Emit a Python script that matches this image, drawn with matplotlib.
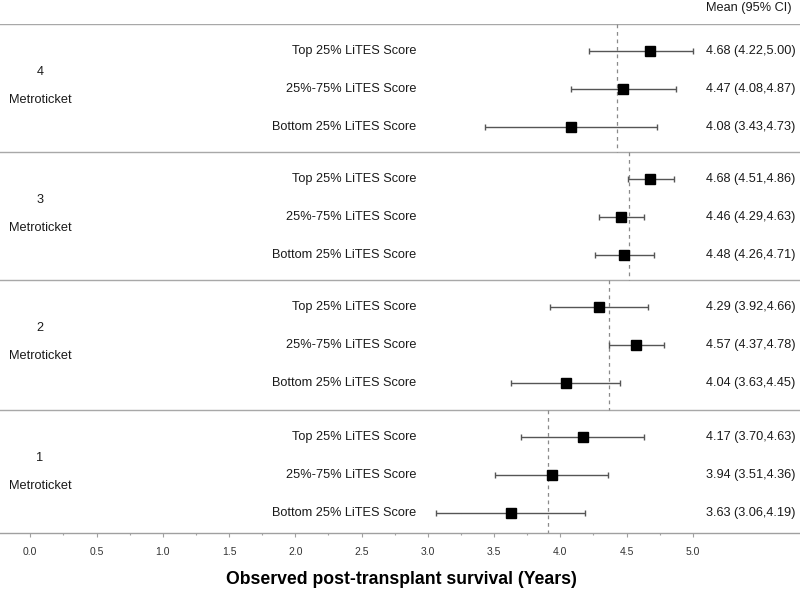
import matplotlib
matplotlib.use("Agg")
import matplotlib.pyplot as plt
from matplotlib import font_manager
from matplotlib.ticker import FixedLocator

# ---- data ----
groups = ["4", "3", "2", "1"]
row_labels = ["Top 25% LiTES Score", "25%-75% LiTES Score", "Bottom 25% LiTES Score"]
means = [[4.68, 4.47, 4.08],
         [4.68, 4.46, 4.48],
         [4.29, 4.57, 4.04],
         [4.17, 3.94, 3.63]]
lower = [[4.22, 4.08, 3.43],
         [4.51, 4.29, 4.26],
         [3.92, 4.37, 3.63],
         [3.70, 3.51, 3.06]]
upper = [[5.00, 4.87, 4.73],
         [4.86, 4.63, 4.71],
         [4.66, 4.78, 4.45],
         [4.63, 4.36, 4.19]]
ref_lines = [4.43, 4.52, 4.37, 3.91]
group_name = "Metroticket"
header = "Mean (95% CI)"
xlabel = "Observed post-transplant survival (Years)"
xticks = [0.0, 0.5, 1.0, 1.5, 2.0, 2.5, 3.0, 3.5, 4.0, 4.5, 5.0]
minor_ticks = [0.25, 0.75, 1.25, 1.75, 2.25, 2.75, 3.25, 3.75, 4.25, 4.75]

# ---- fonts ----
names = {f.name for f in font_manager.fontManager.ttflist}
base_font = "Liberation Sans" if "Liberation Sans" in names else "DejaVu Sans"
plt.rcParams["font.family"] = [base_font, "DejaVu Sans"]

W, H = 800, 591
fig = plt.figure(figsize=(W / 100, H / 100), dpi=100)
axis_px, top_px = 533, 24
ax = fig.add_axes([0, (H - axis_px) / H, 1, (axis_px - top_px) / H])
x0_px, px_per_unit = 30.3, 132.5
ax.set_xlim(-x0_px / px_per_unit, (W - x0_px) / px_per_unit)
ax.set_ylim(axis_px, top_px)  # pixel-like layout units, inverted


def px2x(p):
    return (p - x0_px) / px_per_unit


group_tops = [24, 152, 280, 410]
group_bottoms = [152, 280, 410, 533]
row_offsets = [27, 65, 103]
fs = 9.2
tc = "#1a1a1a"

for gi, g in enumerate(groups):
    top = group_tops[gi]
    ax.axhline(top, color="#a8a8a8", lw=1.0, zorder=1)
    ax.plot([ref_lines[gi]] * 2, [top, group_bottoms[gi]], color="#8a8a8a",
            lw=0.9, ls=(0, (3, 3)), zorder=2)
    ax.text(px2x(40), top + 48, g, ha="center", va="center", fontsize=fs, color=tc)
    ax.text(px2x(40), top + 76, group_name, ha="center", va="center", fontsize=fs, color=tc)
    for ri in range(3):
        y = top + row_offsets[ri]
        m, lo, hi = means[gi][ri], lower[gi][ri], upper[gi][ri]
        ax.errorbar([m], [y], xerr=[[m - lo], [hi - m]], fmt="none", ecolor="#555555",
                    elinewidth=1.0, capsize=2.5, capthick=1.0, zorder=3)
        ax.plot([m], [y], marker="s", ms=7.5, color="black", ls="none", zorder=4)
        ax.text(px2x(416), y, row_labels[ri], ha="right", va="center", fontsize=fs, color=tc)
        ax.text(px2x(706), y, f"{m:.2f} ({lo:.2f},{hi:.2f})", ha="left",
                va="center", fontsize=fs, color=tc)

ax.text(px2x(706), 8, header, ha="left", va="center", fontsize=fs, color=tc, clip_on=False)

for s in ["top", "left", "right"]:
    ax.spines[s].set_visible(False)
ax.spines["bottom"].set_color("#a0a0a0")
ax.spines["bottom"].set_linewidth(1.0)
ax.set_yticks([])
ax.set_xticks(xticks)
ax.set_xticklabels([f"{t:.1f}" for t in xticks], fontsize=7.5, color="#333333")
ax.xaxis.set_minor_locator(FixedLocator(minor_ticks))
ax.tick_params(axis="x", which="major", length=3, width=0.8, color="#a0a0a0", pad=7)
ax.tick_params(axis="x", which="minor", length=1.5, width=0.8, color="#a0a0a0")

fig.text(401 / W, 1 - 580 / H, xlabel, ha="center", va="center", fontsize=12.7,
         fontweight="bold", color="black")

fig.savefig("out.png", dpi=100)
